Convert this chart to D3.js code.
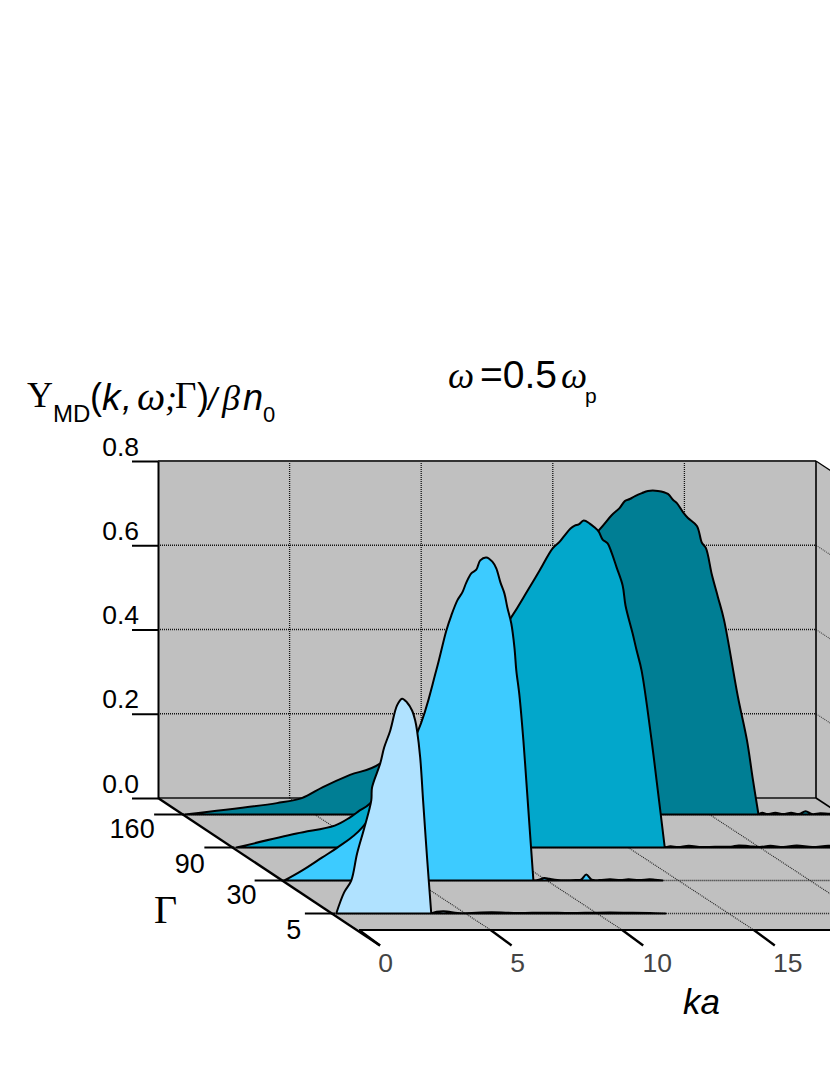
<!DOCTYPE html>
<html><head><meta charset="utf-8">
<script src="https://cdn.jsdelivr.net/npm/d3@7"></script>
<style>html,body{margin:0;background:#fff}svg{display:block}</style></head>
<body><svg id="c" width="830" height="1075"></svg>
<script>
const gammaLabels = ["160","90","30","5"];
const vTicks = [0,0.2,0.4,0.6,0.8];
const kTicks = [0,5,10,15];
const kGrid = [5,10,15,20,25];
const seriesColors = ["#007e94","#02a7cb","#3dcbff","#b0e2ff"];
const k160 = [.07,3.56,4.51,5.31,6.34,7.51,15.8,16.29,16.59,16.78,16.97,17.17,17.43,17.66,18.04,18.42,18.61,18.76,18.99,19.18,19.52,19.71,19.86,20.09,20.32,20.55,21.08,21.42,21.65,21.86,22,22.2,22.5,22.8,23.1,23.4,23.65,23.9,24.2,24.5,25];
const v160 = [0,.027,.039,.065,.094,.122,.675,.711,.728,.744,.749,.756,.763,.768,.768,.761,.747,.739,.718,.704,.685,.645,.633,.569,.516,.462,.279,.177,.082,0,.004,.001,.004,.001,.004,.001,.008,.001,.003,.002,0];
const k90 = [.12,2.4,3.85,4.42,4.8,5.18,10.53,11.18,11.64,12.13,12.4,12.59,12.81,12.97,13.12,13.31,13.54,13.72,13.88,14.03,14.22,14.37,14.56,14.79,14.9,15.17,15.32,15.51,15.89,16.08,16.39,16.6,16.9,17.3,17.8,18.3,18.9,19.2,19.6,20,20.4,20.9,21.4,22,22.6,23.2,24,25];
const v90 = [0,.033,.052,.071,.088,.104,.544,.61,.658,.71,.726,.741,.757,.764,.767,.776,.769,.76,.75,.731,.722,.7,.665,.622,.574,.508,.468,.42,.254,.159,0,.003,.001,.004,.001,.002,.002,.005,.003,.001,.004,.001,.005,.001,.004,.001,.003,0];
const k30 = [.03,.71,1.47,2.04,2.99,5.08,5.8,6.18,6.37,6.6,6.79,6.94,7.13,7.32,7.47,7.7,7.93,8.08,8.24,8.39,8.5,8.65,8.77,8.84,8.96,9.11,9.22,9.34,9.49,9.7,9.9,10.1,10.4,11.1,11.3,11.5,11.7,12,12.4,12.8,13.1,13.5,13.9,14.1,14.4];
const v30 = [0,.024,.055,.078,.126,.351,.499,.593,.629,.665,.684,.707,.729,.738,.76,.767,.757,.741,.707,.681,.648,.61,.553,.499,.439,.332,.237,.131,0,.002,.006,.004,.001,.001,.002,.014,.002,.001,.003,.001,.003,.001,.003,.002,0];
const k5 = [.09,.39,.66,.88,1.15,1.42,1.45,1.76,1.91,2.14,2.4,2.59,2.78,2.97,3.09,3.16,3.28,3.39,3.54,3.7,3.9,4.3,4.7,6,7,8,9,10,11,12,12.6];
const v5 = [0,.05,.078,.142,.202,.268,.299,.356,.394,.434,.494,.51,.501,.482,.458,.434,.37,.268,.133,0,.004,.005,.001,.003,.001,.002,.001,.002,.002,.001,0];
const seriesK = [k160,k90,k30,k5];
const seriesV = [v160,v90,v30,v5];

const svg = d3.select("#c");
const kScale = d3.scaleLinear().domain([0,25]).range([158,816]);
const vScale = d3.scaleLinear().domain([0,0.8]).range([798,461]);
const depth = d3.scaleBand().domain(gammaLabels).range([0,1]);
const dX = d3.scaleLinear().domain([0,1]).range([0,201]);
const dY = d3.scaleLinear().domain([0,1]).range([0,132]);
const rowD = g => depth(g)+depth.bandwidth()/2;
const px = (k,d) => kScale(k)+dX(d);
const py = (v,d) => vScale(v)+dY(d);
const GRAY="#c0c0c0";
const poly = pts => svg.append("polygon").attr("points",pts.map(p=>p.join(",")).join(" ")).attr("fill",GRAY).attr("stroke","none");
const seg = (a,b,w,col,dash) => { const l=svg.append("line").attr("x1",a[0]).attr("y1",a[1]).attr("x2",b[0]).attr("y2",b[1]).attr("stroke",col||"#000").attr("stroke-width",w);
  if(dash) l.attr("stroke-dasharray",dash); return l; };
const DOT="1 1";

// walls and floor
poly([[px(0,0),py(.8,0)],[px(25,0),py(.8,0)],[px(25,0),py(0,0)],[px(0,0),py(0,0)]]);
poly([[px(25,0),py(.8,0)],[px(25,1),py(.8,1)],[px(25,1),py(0,1)],[px(25,0),py(0,0)]]);
poly([[px(0,0),py(0,0)],[px(25,0),py(0,0)],[px(25,1),py(0,1)],[px(0,1),py(0,1)]]);

// grid
kGrid.slice(0,4).forEach(k=>{
  seg([px(k,0),py(0,0)],[px(k,0),py(.8,0)],1.3,"#111",DOT);
  seg([px(k,0),py(0,0)],[px(k,1),py(0,1)],1.1,"#222",DOT);
});
vTicks.slice(1,4).forEach(v=>{
  seg([px(0,0),py(v,0)],[px(25,0),py(v,0)],1.4,"#111",DOT);
  seg([px(25,0),py(v,0)],[px(25,1),py(v,1)],1.1,"#444",DOT);
});
gammaLabels.forEach(g=>seg([px(0,rowD(g)),py(0,rowD(g))],[px(25,rowD(g)),py(0,rowD(g))],1.4,"#222",DOT));

// frame
seg([px(0,0),py(.8,0)],[px(25,0),py(.8,0)],2,"#333");
seg([px(0,0),py(0,0)],[px(25,0),py(0,0)],1.4,"#111");
seg([px(25,0),py(.8,0)],[px(25,0),py(0,0)],1.6);
seg([px(25,0),py(.8,0)],[px(25,1),py(.8,1)],1.2);
seg([px(25,0),py(0,0)],[px(25,1),py(0,1)],1.6);
seg([px(0,1),py(0,1)],[px(25,1),py(0,1)],2);

// series, back to front; the main hump and the noisy tail are smoothed separately so the foot stays sharp
const line = d3.line().x(d=>d[0]).y(d=>d[1]).curve(d3.curveCatmullRom.alpha(0.5));
gammaLabels.forEach((g,i)=>{
  const d=rowD(g);
  const pts=seriesK[i].map((k,j)=>[px(k,d),py(seriesV[i][j],d)]);
  const foot=seriesV[i].indexOf(0,1);
  const path=line(pts.slice(0,foot+1))+"L"+line(pts.slice(foot)).slice(1)+"Z";
  svg.append("path").attr("d",path).attr("fill",seriesColors[i])
    .attr("stroke","#000").attr("stroke-width",2).attr("stroke-linejoin","round");
});

// y axis
const yAxis = d3.axisLeft(vScale).tickValues(vTicks).tickFormat(d3.format(".1f")).tickSize(26).tickSizeOuter(0);
const gy = svg.append("g").attr("transform","translate(158,0)").call(yAxis);
gy.select(".domain").attr("stroke","#000").attr("stroke-width",2);
gy.selectAll(".tick line").attr("stroke","#000").attr("stroke-width",2);
gy.selectAll(".tick text").attr("x",-19).attr("y",-6).attr("dy",0).attr("text-anchor","end")
  .attr("font-family","'Liberation Sans'").attr("font-size",26.5).attr("fill","#000");

// depth axis and gamma ticks
seg([px(0,0),py(0,0)],[px(0,1)+21,py(0,1)+15.5],2.4);
const gammaLabelDX=[-51,-43.5,-42,-40], gammaLabelDY=[23.5,25,23.5,25];
gammaLabels.forEach((g,i)=>{
  const d=rowD(g), x=px(0,d), y=py(0,d);
  seg([x-29,y],[x+1,y],2);
  svg.append("text").text(g).attr("x",x+gammaLabelDX[i]).attr("y",y+gammaLabelDY[i]).attr("text-anchor","middle")
    .attr("font-family","'Liberation Sans'").attr("font-size",27).attr("fill","#000");
});
// k ticks
const kLabelDX=[26.5,27,35,34];
kTicks.forEach((k,i)=>{
  const x=px(k,1), y=py(0,1);
  seg([x,y],[x+21,y+15.5],2.4);
  svg.append("text").text(k).attr("x",x+kLabelDX[i]).attr("y",y+42).attr("text-anchor","middle")
    .attr("font-family","'Liberation Sans'").attr("font-size",26.5).attr("fill","#444");
});

// text labels
const T=(s,x,y,fam,size,style)=>svg.append("text").text(s).attr("x",x).attr("y",y).attr("font-family",fam).attr("font-size",size).attr("font-style",style||"normal").attr("fill","#000");
const S="'Liberation Sans'", R="'Liberation Serif'";
T("Γ",154,923,R,40);
T("ka",683,1014,S,35,"italic");
// title
T("ω",448,388,R,37,"italic");
T("=0.5",480,388,S,39);
T("ω",561,388,R,37,"italic");
T("p",585,403,S,21);
// y title
T("Υ",27,407,R,36);
T("MD",53,422,S,24);
T("(",90,409,S,36);
T("k",102,410,S,37,"italic");
T(",",122,410,S,36,"italic");
T("ω",137,410,R,40,"italic");
T(";",165,410,R,36,"italic");
T("Γ",175,408,R,37);
T(")",197,409,S,36);
T("/",208,410,S,32,"italic");
T("β",222,410,R,36,"italic");
T("n",243,410,S,36,"italic");
T("0",263,422,S,22);
</script></body></html>
